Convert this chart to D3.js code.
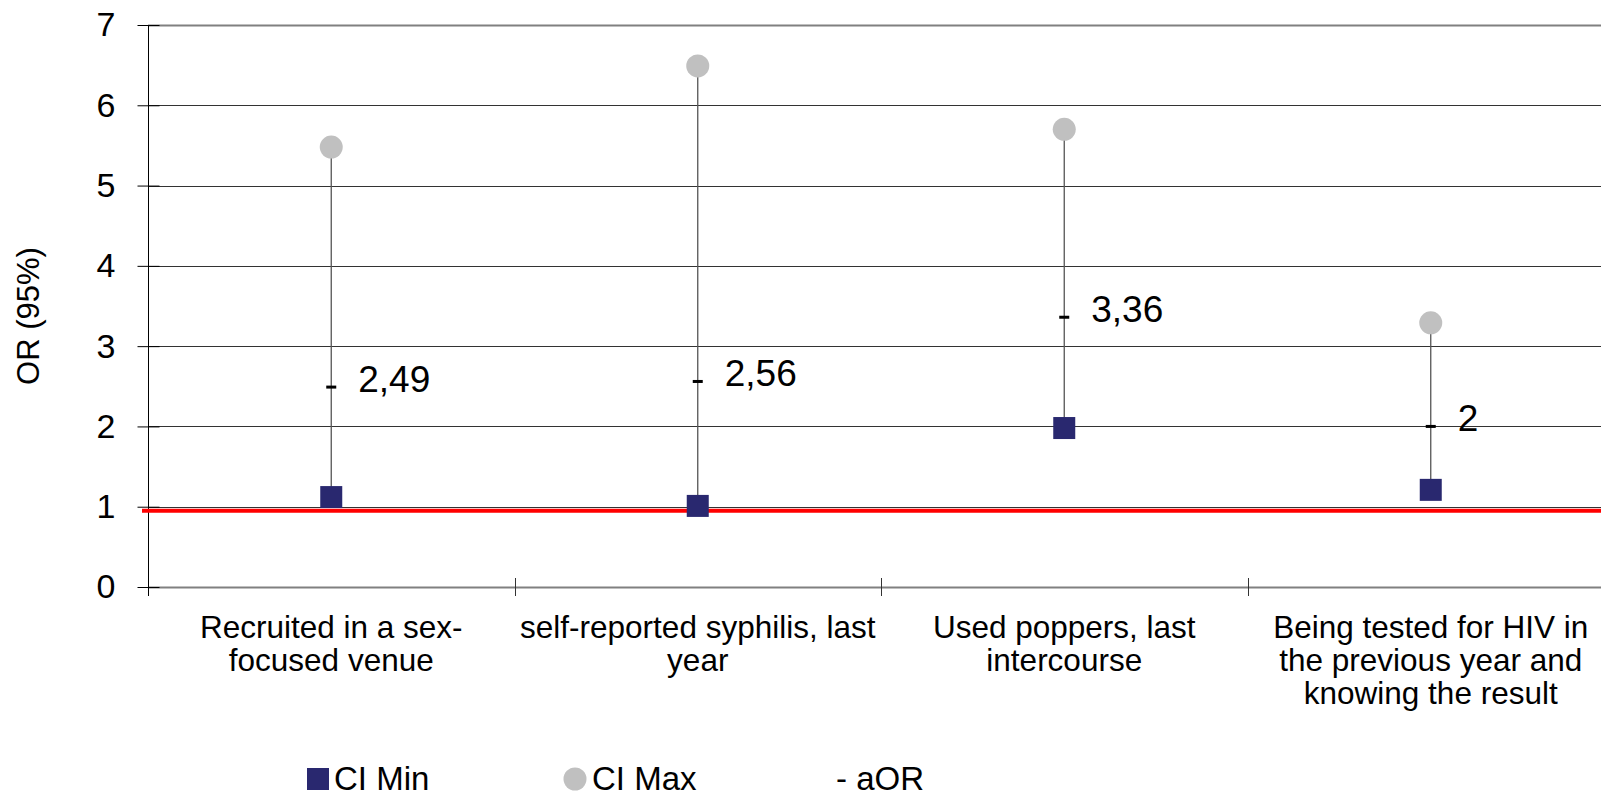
<!DOCTYPE html>
<html>
<head>
<meta charset="utf-8">
<script src="https://cdn.jsdelivr.net/npm/d3@7"></script>
<style>
  html, body { margin: 0; padding: 0; background: #fff; }
  svg { display: block; font-family: "Liberation Sans", Arial, sans-serif; }
</style>
</head>
<body>
<svg id="chart" width="1601" height="798"></svg>
<script>
// Odds ratios with 95% CI - one group per factor

// Category labels (already split into lines)
const categories = [
  ['Recruited in a sex-', 'focused venue'],
  ['self-reported syphilis, last', 'year'],
  ['Used poppers, last', 'intercourse'],
  ['Being tested for HIV in', 'the previous year and', 'knowing the result']
];

// Series values
const ciMin = [1.12, 1.01, 1.98, 1.21];
const ciMax = [5.48, 6.49, 5.70, 3.29];
const aOR = [2.49, 2.56, 3.36, 2];
const aORLabels = ['2,49', '2,56', '3,36', '2'];

// Axis ticks and reference line
const yTicks = [0, 1, 2, 3, 4, 5, 6, 7];
const refValue = 0.95;

const legendItems = ['CI Min', 'CI Max', '- aOR'];

const svg = d3.select('#chart');
const width = 1601;

const plotLeft = 148, plotTop = 25, plotBottom = 587;
const plotRight = 1614;

const x = d3.scaleBand()
  .domain(d3.range(categories.length))
  .range([plotLeft, plotRight]);

const y = d3.scaleLinear()
  .domain([0, 7])
  .range([plotBottom, plotTop]);

// Gridlines
svg.append('g')
  .selectAll('line')
  .data(yTicks)
  .enter()
  .append('line')
  .attr('x1', plotLeft)
  .attr('x2', width)
  .attr('y1', d => Math.round(y(d)) + 0.5)
  .attr('y2', d => Math.round(y(d)) + 0.5)
  .attr('stroke', d => (d === 0 || d === 7) ? '#808080' : '#333')
  .attr('stroke-width', d => (d === 0 || d === 7) ? 2 : 1);

// Y axis with crossing ticks
const yAxis = svg.append('g')
  .attr('transform', `translate(${plotLeft + 0.5},0)`)
  .call(d3.axisLeft(y).tickValues(yTicks).tickFormat(d3.format('d')).tickSize(11).tickPadding(22));
yAxis.attr('font-size', null).attr('font-family', null);
yAxis.select('.domain').remove();
yAxis.selectAll('.tick line')
  .attr('x2', -11)
  .attr('x1', 11)
  .attr('stroke', '#000');
yAxis.selectAll('.tick text')
  .attr('font-size', 34)
  .attr('fill', '#000');

svg.append('line')
  .attr('x1', plotLeft + 0.5).attr('x2', plotLeft + 0.5)
  .attr('y1', plotTop).attr('y2', plotBottom + 9)
  .attr('stroke', '#000');

// X axis boundary ticks
const bounds = d3.range(categories.length).map(i => x(i)).concat([x(categories.length - 1) + x.bandwidth()]);
svg.append('g')
  .selectAll('line')
  .data(bounds.slice(1))
  .enter()
  .append('line')
  .attr('x1', d => Math.round(d) + 0.5)
  .attr('x2', d => Math.round(d) + 0.5)
  .attr('y1', plotBottom - 9)
  .attr('y2', plotBottom + 9)
  .attr('stroke', '#333');

// Category labels
const catLabels = svg.append('g')
  .selectAll('text')
  .data(categories)
  .enter()
  .append('text')
  .attr('text-anchor', 'middle')
  .attr('font-size', 31.5)
  .attr('fill', '#000')
  .attr('transform', (d, i) => `translate(${x(i) + x.bandwidth() / 2},638)`);
catLabels.selectAll('tspan')
  .data(d => d)
  .enter()
  .append('tspan')
  .attr('x', 0)
  .attr('y', (d, i) => i * 33)
  .text(d => d);

// Y axis title
svg.append('text')
  .attr('transform', 'translate(39,316) rotate(-90)')
  .attr('text-anchor', 'middle')
  .attr('font-size', 31)
  .attr('fill', '#000')
  .text('OR (95%)');

// Reference line
svg.append('line')
  .attr('x1', 142)
  .attr('x2', width)
  .attr('y1', y(refValue))
  .attr('y2', y(refValue))
  .attr('stroke', '#ff0000')
  .attr('stroke-width', 4);

const cx = i => x(i) + x.bandwidth() / 2;

// Stems
svg.append('g')
  .selectAll('line')
  .data(d3.range(categories.length))
  .enter()
  .append('line')
  .attr('x1', cx).attr('x2', cx)
  .attr('y1', i => y(ciMin[i]))
  .attr('y2', i => y(ciMax[i]))
  .attr('stroke', '#555')
  .attr('stroke-width', 1.3);

// aOR dashes
svg.append('g')
  .selectAll('rect')
  .data(d3.range(categories.length))
  .enter()
  .append('rect')
  .attr('x', i => cx(i) - 5)
  .attr('y', i => y(aOR[i]) - 1.5)
  .attr('width', 10)
  .attr('height', 3)
  .attr('fill', '#000');

// CI max circles
svg.append('g')
  .selectAll('circle')
  .data(d3.range(categories.length))
  .enter()
  .append('circle')
  .attr('cx', cx)
  .attr('cy', i => y(ciMax[i]))
  .attr('r', 11.5)
  .attr('fill', '#c0c0c0');

// CI min squares
svg.append('g')
  .selectAll('rect')
  .data(d3.range(categories.length))
  .enter()
  .append('rect')
  .attr('x', i => cx(i) - 11)
  .attr('y', i => y(ciMin[i]) - 11)
  .attr('width', 22)
  .attr('height', 22)
  .attr('fill', '#29286f');

// aOR value labels
svg.append('g')
  .selectAll('text')
  .data(d3.range(categories.length))
  .enter()
  .append('text')
  .attr('x', i => cx(i) + 27)
  .attr('y', i => y(aOR[i]) + 5)
  .attr('font-size', 37)
  .attr('fill', '#000')
  .text(i => aORLabels[i]);

// Legend
const legend = svg.append('g');
legend.append('rect')
  .attr('x', 307).attr('y', 768)
  .attr('width', 22).attr('height', 22)
  .attr('fill', '#29286f');
legend.append('circle')
  .attr('cx', 575).attr('cy', 779)
  .attr('r', 11.5)
  .attr('fill', '#c0c0c0');

const legendX = [334, 592, 836];
legend.selectAll('text')
  .data(legendItems)
  .enter()
  .append('text')
  .attr('x', (d, i) => legendX[i])
  .attr('y', 790)
  .attr('font-size', 33)
  .attr('fill', '#000')
  .text(d => d);
</script>
</body>
</html>
